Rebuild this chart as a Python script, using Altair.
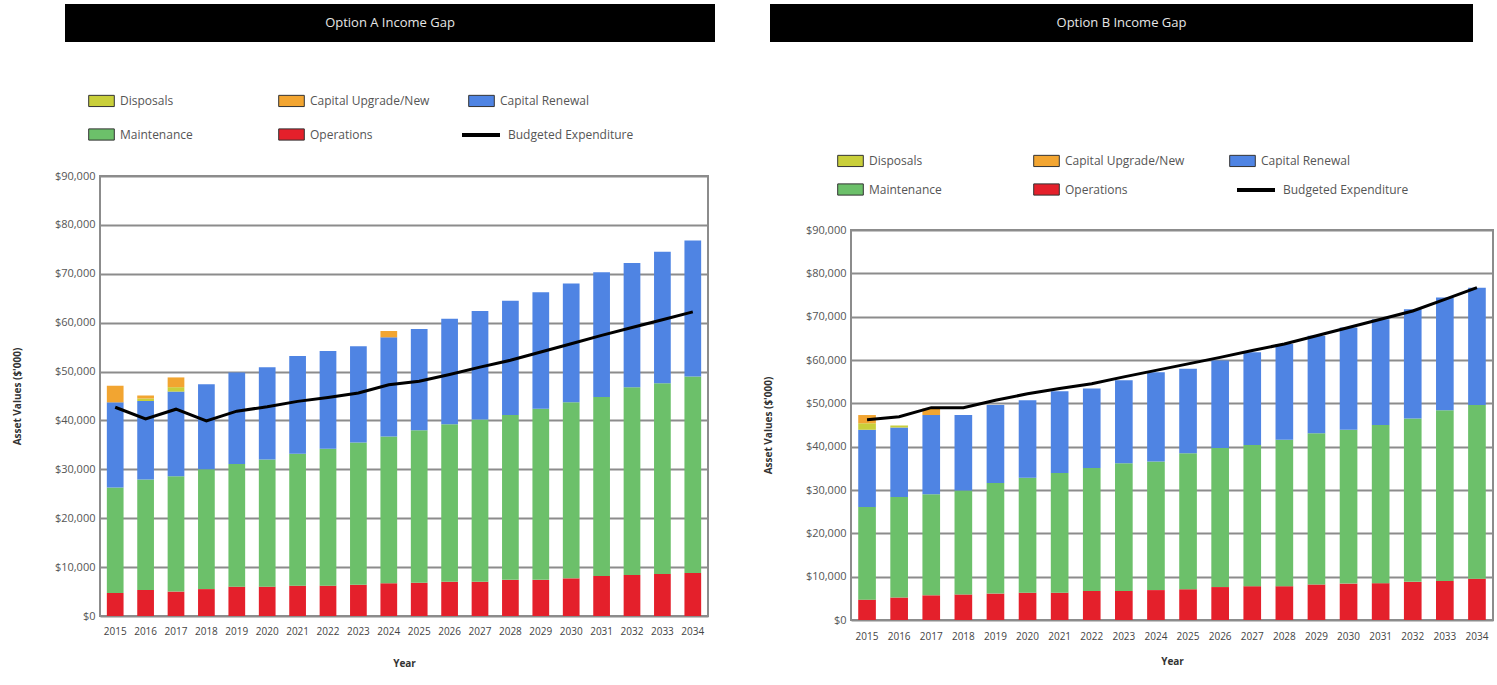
import altair as alt
import pandas as pd

FONT = "Open Sans"

years = [str(y) for y in range(2015, 2035)]

# Stack order from the bottom of each bar upwards
stack_order = ["Operations", "Maintenance", "Capital Renewal", "Disposals", "Capital Upgrade/New"]
# Legend entries are laid out column by column (two rows, three columns)
legend_order = ["Disposals", "Maintenance", "Capital Upgrade/New", "Operations", "Capital Renewal"]
legend_colors = ["#c9cf3a", "#6cc06a", "#f2a531", "#e4202b", "#4f84e3"]

# ---- Option A ($) ----
ops_a = [4700, 5300, 5000, 5500, 6000, 6000, 6200, 6200, 6400, 6700,
         6800, 7000, 7000, 7400, 7400, 7700, 8200, 8400, 8600, 8800]
maint_a = [21600, 22600, 23600, 24500, 25100, 26000, 27000, 28000, 29100, 30000,
           31200, 32200, 33200, 33700, 35000, 36000, 36600, 38400, 39000, 40200]
renew_a = [17400, 16100, 17300, 17400, 18700, 18900, 20000, 20000, 19700, 20300,
           20700, 21600, 22200, 23400, 23800, 24300, 25500, 25400, 26900, 27800]
disp_a = [0, 500, 900, 0, 0, 0, 0, 0, 0, 0,
          0, 0, 0, 0, 0, 0, 0, 0, 0, 0]
upgrade_a = [3400, 600, 2000, 0, 0, 0, 0, 0, 0, 1300,
             0, 0, 0, 0, 0, 0, 0, 0, 0, 0]
budget_a = [42700, 40300, 42300, 39900, 41900, 42800, 43900, 44700, 45600, 47300,
            48000, 49400, 50900, 52300, 54000, 55700, 57400, 59000, 60600, 62200]

# ---- Option B ($) ----
ops_b = [4700, 5200, 5700, 5900, 6100, 6300, 6300, 6700, 6700, 6900,
         7100, 7600, 7800, 7800, 8200, 8400, 8500, 8800, 9000, 9500]
maint_b = [21400, 23200, 23300, 24000, 25500, 26500, 27600, 28400, 29500, 29700,
           31400, 32100, 32600, 33800, 34900, 35500, 36500, 37700, 39400, 40100]
renew_b = [17800, 16000, 18300, 17400, 18000, 17900, 18900, 18300, 19100, 20600,
           19500, 20200, 21400, 22100, 22500, 23600, 24400, 25200, 26000, 27100]
disp_b = [1500, 500, 0, 0, 0, 0, 0, 0, 0, 0,
          0, 0, 0, 0, 0, 0, 0, 0, 0, 0]
upgrade_b = [1900, 0, 1500, 0, 0, 0, 0, 0, 0, 0,
             0, 0, 0, 0, 0, 0, 0, 0, 0, 0]
budget_b = [46200, 46900, 49000, 49000, 50700, 52200, 53400, 54500, 56100, 57600,
            59100, 60600, 62200, 63700, 65600, 67500, 69400, 71300, 74000, 76700]

GRID = "#8c8c8c"
SWATCH = "M-1.6,-0.7L1.6,-0.7L1.6,0.7L-1.6,0.7Z"


def bar_table(ops, maint, renew, disp, upgrade):
    rows = []
    cols = dict(zip(stack_order, [ops, maint, renew, disp, upgrade]))
    for cat in stack_order:
        for yr, v in zip(years, cols[cat]):
            if v > 0:
                rows.append({"Year": yr, "Category": cat, "Value": v,
                             "Stack": stack_order.index(cat)})
    return pd.DataFrame(rows)


def panel(title, bars, budget, w, h, bar_box, leg, line_leg, lab_pad, title_pad):
    bx0, bx1, by0, by1 = bar_box
    x = alt.X("Year:O", sort=years,
              scale=alt.Scale(paddingInner=0.45, paddingOuter=0.225),
              axis=alt.Axis(title="Year", labelAngle=0, labelFontSize=10,
                            labelColor="#444", labelPadding=lab_pad, labelOverlap=False,
                            ticks=False, domain=False, titleFontSize=10,
                            titleFontWeight="bold", titleColor="#333",
                            titlePadding=title_pad))
    y = alt.Y("Value:Q", stack="zero",
              scale=alt.Scale(domain=[0, 90000], nice=False),
              axis=alt.Axis(values=list(range(0, 90001, 10000)), format="$,d",
                            title="Asset Values ($'000)", labelFontSize=11,
                            labelColor="#555", labelPadding=5, ticks=False,
                            domain=False, gridColor=GRID, gridWidth=2,
                            titleX=-78, titleY=h / 2, titleAngle=-90,
                            titleBaseline="bottom", titleAlign="center",
                            titleFontSize=10, titleFontWeight="bold",
                            titleColor="#333"))

    bar_layer = alt.Chart(bars).mark_bar().encode(
        x=x,
        y=y,
        color=alt.Color("Category:N",
                        scale=alt.Scale(domain=legend_order, range=legend_colors),
                        legend=alt.Legend(title=None, orient="none",
                                          legendX=leg[0], legendY=leg[1],
                                          columns=3, gridAlign="all",
                                          columnPadding=leg[3], rowPadding=leg[2],
                                          symbolType=SWATCH, symbolSize=256,
                                          symbolStrokeColor="#333",
                                          symbolStrokeWidth=1, symbolOpacity=1,
                                          labelOffset=10, labelFontSize=12,
                                          labelColor="#555", labelLimit=200,
                                          padding=0)),
        order=alt.Order("Stack:Q", sort="ascending"),
    )

    line_df = pd.DataFrame({"Year": years, "Value": budget,
                            "Series": ["Budgeted Expenditure"] * len(years)})
    line_layer = alt.Chart(line_df).mark_line(strokeWidth=3).encode(
        x=alt.X("Year:O", sort=years),
        y=alt.Y("Value:Q"),
        stroke=alt.Stroke("Series:N",
                          scale=alt.Scale(domain=["Budgeted Expenditure"], range=["#000000"]),
                          legend=alt.Legend(title=None, orient="none",
                                            legendX=line_leg[0], legendY=line_leg[1],
                                            symbolType="stroke", symbolSize=1444,
                                            symbolStrokeWidth=4, labelOffset=6,
                                            labelFontSize=12, labelColor="#555",
                                            padding=0)),
    )

    head = pd.DataFrame({"t": [title]})
    head_bar = alt.Chart(head).mark_rect(color="#000000").encode(
        x=alt.value(bx0), x2=alt.value(bx1), y=alt.value(by0), y2=alt.value(by1))
    head_text = alt.Chart(head).mark_text(color="#e6e6e6", fontSize=13, font=FONT).encode(
        x=alt.value((bx0 + bx1) / 2), y=alt.value((by0 + by1) / 2), text="t:N")

    layered = alt.layer(head_bar, head_text, bar_layer, line_layer).properties(
        width=w, height=h)

    # A 1px invisible strip on top of each panel, so that the two columns line up
    # by their top edges (the title bars) rather than by their plot areas.
    strip = alt.Chart(pd.DataFrame({"t": [""]})).mark_rect(opacity=0).encode(
        x=alt.value(0), x2=alt.value(1), y=alt.value(0), y2=alt.value(1)
    ).properties(width=1, height=1, view=alt.ViewBackground(stroke="transparent"))
    return alt.vconcat(strip, layered, spacing=0).resolve_scale(
        color="independent", stroke="independent"
    ).resolve_legend(color="independent", stroke="independent")


bars_a = bar_table(ops_a, maint_a, renew_a, disp_a, upgrade_a)
bars_b = bar_table(ops_b, maint_b, renew_b, disp_b, upgrade_b)

chart_a = panel("Option A Income Gap", bars_a, budget_a, 608, 440,
                (-35, 615, -172, -134), (-7, -84, 17, 36), (360, -62), 10, 22)
chart_b = panel("Option B Income Gap", bars_b, budget_b, 642, 390,
                (-81, 622, -226, -188), (-9, -78, 12, 42), (384, -61), 11, 15)

chart = alt.hconcat(chart_a, chart_b, spacing=46).resolve_scale(
    color="independent", stroke="independent", y="independent", x="independent"
).resolve_legend(color="independent", stroke="independent").properties(
    padding={"left": 11, "top": 0, "right": 0, "bottom": 0}
).configure(font=FONT).configure_view(stroke=GRID, strokeWidth=2)

chart.save("out.html", embed_options={"renderer": "svg", "actions": False})
